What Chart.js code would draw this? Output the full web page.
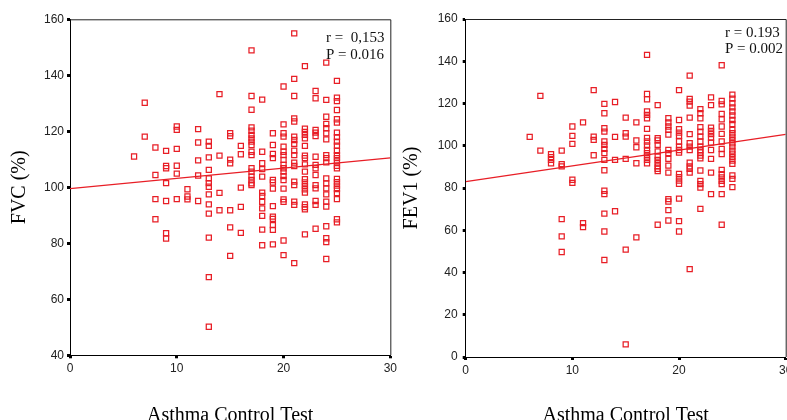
<!DOCTYPE html>
<html><head><meta charset="utf-8">
<script src="https://cdn.jsdelivr.net/npm/chart.js@4.4.0/dist/chart.umd.min.js"></script>
<style>
html,body{margin:0;padding:0;background:#fff;overflow:hidden;width:787px;height:420px;}
#wrap{position:relative;width:787px;height:420px;overflow:hidden;background:#fff;}
canvas{position:absolute;top:0;}
</style></head><body>
<div id="wrap">
<canvas id="fvc" style="left:0px;width:400px;height:430px" width="400" height="430"></canvas>
<canvas id="fev" style="left:400px;width:400px;height:430px" width="400" height="430"></canvas>
</div>
<script>
// Asthma Control Test scores (x categories)
const actScores = [6,7,8,9,10,11,12,13,14,15,16,17,18,19,20,21,22,23,24,25];

// FVC (%) values per ACT score
const fvcByScore = [
  [111],
  [130.2,118.1],
  [114.2,104.4,95.8,88.6],
  [113,107.6,106.8,101.5,95.1,83.6,81.7],
  [121.7,120.5,113.7,107.7,104.9,95.8],
  [99.3,96.7,95.7],
  [120.8,116,109.6,104.2,95.1],
  [116.3,114.8,110.7,106.2,103.2,101.5,100.2,97.5,93.9,90.6,82,67.9,50.2],
  [133.3,111.3,98,91.8],
  [119.3,118.3,109.9,108.6,91.8,85.7,75.5],
  [114.8,111.8,99.9,93,83.7],
  [148.9,132.6,127.7,121.4,120.2,118.7,117.5,116.3,115.1,112.7,111.5,106.8,105.6,103.8,102.6,101.4,100.8],
  [131.3,112.7,108.6,106.5,103.8,98.1,96.9,94.8,92.5,89.8,84.9,79.3],
  [119.3,115.1,111.9,110.4,102.6,101.7,99.5,93.3,89.5,88.7,86.5,84.8,79.6],
  [136,122.5,119.3,118.1,114.5,112.7,111.5,109.8,108,106.8,105.6,104,102.6,99.5,95.7,94.8,81,75.8],
  [155,138.7,132.6,124.6,123.5,118.1,116.9,115.5,113.1,111.5,108.8,107.6,102,100.8,94.9,93.7,72.9],
  [143.3,120.9,119.8,118.7,117.5,114.8,111.3,110.4,108.2,105.6,102.9,101.7,100.5,99.3,98.1,93.9,92.9,92.1,83.2],
  [134.4,131.8,120.5,119.5,118.3,110.9,108,106.8,104.4,100.8,99.6,95.1,93.7,85.2],
  [144.5,131.2,125.2,122.6,121.1,119.3,117.1,111.5,110.4,108.9,103.2,101.4,99.6,97.5,94.9,93.1,86.1,81.8,80.4,74.4],
  [138,132,130.8,127.6,124.3,123.1,119.5,117.9,116.3,114.9,113,111.5,110.4,109.2,107.7,106.8,103,101.8,100.6,99.4,97.9,95.8,88.6,87.5]
];

// FEV1 (%) values per ACT score
const fev1ByScore = [
  [104.2],
  [123.6,97.7],
  [96,94.6,93.3,91.7],
  [97.7,91.3,90.2,65.3,57.1,49.7],
  [109.1,104.7,100.9,83.9,82.4],
  [111.1,63.4,61.5],
  [126.3,104.3,102.8,95.5],
  [119.8,115.4,108.3,106.7,102,100.4,98.5,96.5,93.3,88.4,78.7,77.1,67.9,59.4,45.9],
  [120.7,104.2,93.3,69],
  [113.3,105.9,104.3,93.8,50.8,6],
  [111.1,102.5,99.3,91.7,56.6],
  [143,124.5,122,116.2,114.6,113,108,103.7,102,100.1,98,96.5,94.9,93.3,91.7],
  [119.2,103.6,102.5,100.4,97.3,94.9,93.3,91.7,90.2,89.1,88,62.6],
  [113,111,109.1,107.5,105.3,98,96.5,93.8,90.6,87.3,74.7,73.6,69.5,64.6],
  [126.3,112.2,107.8,106.2,104.7,102,99.6,98,96.8,86.7,85.1,83.5,82,75,64.3,59.4],
  [133.2,122.2,120.9,119,113.3,105.5,101.2,99.6,98,92,90.2,89.1,87.3,41.6],
  [117.3,115.4,113,108.8,106.7,104.3,102,99.6,98,96.8,95.4,94.1,88.3,83.4,81.8,80.2,70.1],
  [122.9,119.2,108.6,107,105.5,103.9,101.5,98,93.8,87.3,77.1],
  [138.1,121.2,119.6,115.1,112.5,109.1,105.6,102,98.5,96,88.6,86.5,85,83.4,81.8,77.1,62.6],
  [124.2,122.3,120.1,118.2,116.2,114.3,112.2,110.3,107.5,105.9,104.3,102.8,101.2,99.6,97.7,96.2,94.6,93,91.4,85.9,84.3,80.4]
];

// Regression line end points (x = 0 and x = 30)
const fitX = [0, 30];
const fvcFitY = [99.5, 110.5];
const fev1FitY = [83, 105.4];

// Axis tick settings [min, max, step]
const fvcYTicks = [40, 160, 20];
const fev1YTicks = [0, 160, 20];
const xTicks = [0, 30, 10];

// Annotation texts
const fvcStats = ['r =  0,153', 'P = 0.016'];
const fev1Stats = ['r = 0.193', 'P = 0.002'];

const RED = 'rgb(232,30,38)';
const SERIF = '"Liberation Serif", "Times New Roman", serif';
const SANS = '"Liberation Sans", Arial, sans-serif';

function toPoints(groups) {
  const pts = [];
  groups.forEach((vals, i) => vals.forEach(v => pts.push({x: actScores[i], y: v})));
  return pts;
}

const framePlugin = {
  id: 'frame',
  afterDatasetsDraw(chart) {
    const {ctx, chartArea: a} = chart;
    ctx.save();
    ctx.strokeStyle = '#222';
    ctx.lineWidth = 1;
    ctx.beginPath();
    ctx.moveTo(a.left, a.top + 0.5);
    ctx.lineTo(a.right + 0.5, a.top + 0.5);
    ctx.lineTo(a.right + 0.5, a.bottom);
    ctx.stroke();
    ctx.restore();
  }
};

const statsPlugin = {
  id: 'stats',
  afterDraw(chart, args, opts) {
    const {ctx} = chart;
    ctx.save();
    ctx.font = '15px ' + SERIF;
    ctx.fillStyle = '#111';
    ctx.textAlign = 'left';
    ctx.textBaseline = 'middle';
    opts.lines.forEach((t, i) => ctx.fillText(t, opts.x, opts.y + i * opts.dy));
    ctx.restore();
  }
};

function makeChart(id, groups, fitY, yT, yTitle, cfg) {
  const axisCommon = {
    grid: {display: true, drawOnChartArea: false, drawTicks: true, tickLength: 3, tickWidth: 3, tickColor: '#000'},
    border: {display: true, color: '#000', width: 1}
  };
  return new Chart(document.getElementById(id), {
    type: 'scatter',
    data: {
      datasets: [
        {
          data: toPoints(groups),
          pointStyle: 'rect',
          pointRadius: 3.6,
          pointBorderWidth: 1.25,
          pointBorderColor: RED,
          pointBackgroundColor: 'rgba(255,255,255,0)',
          showLine: false
        },
        {
          data: fitX.map((x, i) => ({x: x, y: fitY[i]})),
          showLine: true,
          borderColor: RED,
          borderWidth: 1.2,
          pointRadius: 0,
          fill: false
        }
      ]
    },
    options: {
      responsive: false,
      animation: false,
      devicePixelRatio: 1,
      layout: {padding: {left: 0, top: cfg.top, right: cfg.right, bottom: 0}},
      plugins: {
        legend: {display: false},
        tooltip: {enabled: false},
        stats: cfg.stats
      },
      scales: {
        x: Object.assign({}, axisCommon, {
          type: 'linear', min: xTicks[0], max: xTicks[1],
          ticks: {stepSize: xTicks[2], color: '#222', font: {family: SANS, size: 12}, padding: 3, maxRotation: 0},
          title: {display: true, text: 'Asthma Control Test', color: '#000', font: {family: SERIF, size: 20}, padding: {top: 0, bottom: cfg.xTitlePad}},
          afterFit: s => { s.height = cfg.xH; }
        }),
        y: Object.assign({}, axisCommon, {
          type: 'linear', min: yT[0], max: yT[1],
          ticks: {stepSize: yT[2], color: '#222', font: {family: SANS, size: 12}, padding: cfg.yTickPad},
          title: {display: true, text: yTitle, color: '#000', font: {family: SERIF, size: 20}, padding: {top: cfg.yTitlePad, bottom: 0}},
          afterFit: s => { s.width = cfg.yW; }
        })
      }
    },
    plugins: [framePlugin, statsPlugin]
  });
}

makeChart('fvc', fvcByScore, fvcFitY, fvcYTicks, 'FVC (%)', {
  top: 19.3, right: 9.3, xH: 74.7, yW: 70, yTickPad: 3, yTitlePad: 8, xTitlePad: 2,
  stats: {lines: fvcStats, x: 326, y: 38, dy: 17}
});
makeChart('fev', fev1ByScore, fev1FitY, fev1YTicks, 'FEV1 (%)', {
  top: 19, right: 14.3, xH: 73, yW: 65.7, yTickPad: 5, yTitlePad: 0, xTitlePad: 2,
  stats: {lines: fev1Stats, x: 325, y: 33, dy: 16.5}
});
</script>
</body></html>
